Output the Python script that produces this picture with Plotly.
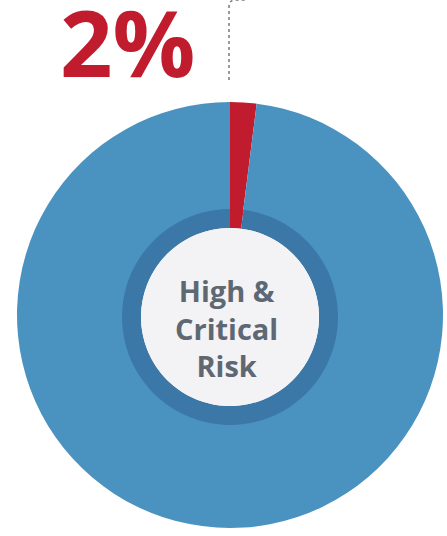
import plotly.graph_objects as go

W, H = 447, 536

# Data
labels = ["High & Critical Risk", "Other"]
values = [2, 98]
outer_colors = ["#C11B2E", "#4A93C0"]
inner_colors = ["#C11B2E", "#3B78A8"]
pct_label = "2%"
center_label = "High &<br>Critical<br>Risk"


def px_dom(cx, cy, r):
    return dict(x=[(cx - r) / W, (cx + r) / W], y=[1 - (cy + r) / H, 1 - (cy - r) / H])


def px(x, y):
    return x / W, 1 - y / H


fig = go.Figure()
fig.add_trace(go.Pie(
    labels=labels, values=values, sort=False, direction="clockwise", rotation=0,
    hole=104 / 213, marker=dict(colors=outer_colors, line=dict(width=0)),
    textinfo="none", hoverinfo="label+percent", showlegend=False,
    domain=px_dom(230, 315, 213),
))
fig.add_trace(go.Pie(
    labels=labels, values=values, sort=False, direction="clockwise", rotation=0,
    hole=89 / 108, marker=dict(colors=inner_colors, line=dict(width=0)),
    textinfo="none", hoverinfo="label+percent", showlegend=False,
    domain=px_dom(230, 317, 108),
))

x0, y0 = px(230 - 89, 317 - 89)
x1, y1 = px(230 + 89, 317 + 89)
fig.add_shape(type="circle", xref="paper", yref="paper", x0=x0, x1=x1, y0=y1, y1=y0,
              fillcolor="#F3F3F5", line=dict(width=0), layer="above")

# dashed leader line
pts = [(229, 80), (229, 6), (236, 0), (246, 0)]
p = [px(*q) for q in pts]
c = px(229, 0)
path = (f"M {p[0][0]},{p[0][1]} L {p[1][0]},{p[1][1]} "
        f"Q {c[0]},{c[1]} {p[2][0]},{p[2][1]} L {p[3][0]},{p[3][1]}")
fig.add_shape(type="path", xref="paper", yref="paper", path=path,
              line=dict(color="#7A7A7A", width=1.5, dash="dot"))

fig.add_annotation(text=pct_label, xref="paper", yref="paper",
                   x=127 / W, y=1 - 41 / H, xanchor="center", yanchor="middle",
                   showarrow=False,
                   font=dict(family="Open Sans", size=92, color="#C11B2E", weight="bold"))
fig.add_annotation(text=center_label, xref="paper", yref="paper",
                   x=226 / W, y=1 - 328 / H, xanchor="center", yanchor="middle",
                   showarrow=False,
                   font=dict(family="Open Sans", size=29, color="#5E6872", weight="bold"))

fig.update_layout(width=W, height=H, margin=dict(l=0, r=0, t=0, b=0),
                  paper_bgcolor="white", plot_bgcolor="white")
fig.write_html("out.html", config={"displayModeBar": False},
               post_script="document.body.style.margin='0';document.body.style.padding='0';")
